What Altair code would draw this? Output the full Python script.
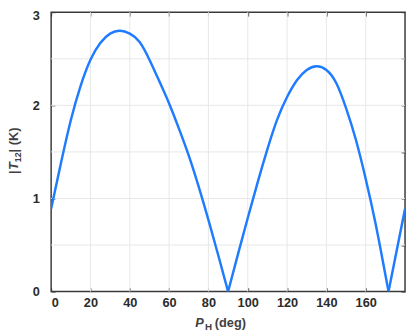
import altair as alt
import pandas as pd

# Curve: |T12| (K) against P_H (deg)
x_deg = [0, 5, 10, 15, 20, 25, 30, 35, 40, 45, 50, 55, 60, 65, 70, 75, 80, 85, 90,
         95, 100, 105, 110, 115, 120, 125, 130, 135, 140, 145, 150, 155, 160, 165, 170,
         171.6, 175, 180]
t_abs = [0.89, 1.38, 1.84, 2.21, 2.49, 2.67, 2.77, 2.80, 2.77, 2.68, 2.49, 2.26, 2.02,
         1.75, 1.46, 1.13, 0.77, 0.39, 0.00,
         0.40, 0.79, 1.17, 1.53, 1.85, 2.09, 2.27, 2.38, 2.42, 2.38, 2.24, 1.97, 1.63,
         1.21, 0.73, 0.18, 0.00, 0.36, 0.89]

x_ticks = [0, 20, 40, 60, 80, 100, 120, 140, 160]
y_ticks = [0, 0.5, 1, 1.5, 2, 2.5, 3]
x_grid = [20, 40, 60, 80, 100, 120, 140, 160]
y_grid = [0.5, 1, 1.5, 2, 2.5]

# split into lobes at the zeros so each arch is smooth but the kinks stay sharp
rows = []
lobe = 0
for i, (xv, tv) in enumerate(zip(x_deg, t_abs)):
    rows.append({"x": xv, "t": tv, "lobe": lobe})
    if tv == 0 and 0 < i < len(x_deg) - 1:
        lobe += 1
        rows.append({"x": xv, "t": tv, "lobe": lobe})
df = pd.DataFrame(rows)

FONT = "Liberation Sans"
FRAME = "#3a3a3a"
LABEL = "#2b2b2b"
TITLE = "#404040"

xs = alt.Scale(domain=[0, 180], nice=False, zero=False)
ys = alt.Scale(domain=[0, 3], nice=False, zero=False)

grid_x = alt.Chart(pd.DataFrame({"gx": x_grid})).mark_rule(
    color="#e6e6e6", strokeWidth=1).encode(x=alt.X("gx:Q", scale=xs, axis=None))
grid_y = alt.Chart(pd.DataFrame({"gy": y_grid})).mark_rule(
    color="#e6e6e6", strokeWidth=1).encode(y=alt.Y("gy:Q", scale=ys, axis=None))

main = alt.Chart(df).mark_line(
    color="#1f7bff", strokeWidth=2.5, interpolate="natural", clip=True
).encode(
    x=alt.X("x:Q", scale=xs, title=None,
            axis=alt.Axis(orient="bottom", values=x_ticks, format="d", offset=-4,
                          tickSize=4, tickColor=FRAME, tickWidth=1, domain=False,
                          grid=False, labelPadding=5, labelFont=FONT, labelFontSize=13,
                          labelFontWeight="bold", labelColor=LABEL)),
    y=alt.Y("t:Q", scale=ys, title=None,
            axis=alt.Axis(orient="left", values=y_ticks, format="d", offset=-4, tickSize=4,
                          tickColor=FRAME, tickWidth=1, domain=False, grid=False,
                          labelPadding=12, labelFont=FONT, labelFontSize=13,
                          labelFontWeight="bold", labelColor=LABEL,
                          labelExpr="datum.value % 1 == 0 ? datum.label : ''",
                          labelOffset={"condition": {"test": "datum.value == 3", "value": 3.5},
                                       "value": 0})),
    detail="lobe:N",
)

mirror = alt.Chart(df).mark_line(opacity=0).encode(
    x=alt.X("x:Q", scale=xs, title=None,
            axis=alt.Axis(orient="top", values=x_ticks, offset=-4, tickSize=4,
                          tickColor=FRAME, tickWidth=1, domain=False, grid=False,
                          labels=False)),
    y=alt.Y("t:Q", scale=ys, title=None,
            axis=alt.Axis(orient="right", values=y_ticks, offset=-4, tickSize=4,
                          tickColor=FRAME, tickWidth=1, domain=False, grid=False,
                          labels=False)),
    detail="lobe:N",
)

one = pd.DataFrame({"a": [0]})


def txt(s, x, y, size=13, italic=False, angle=0):
    kw = dict(align="left", baseline="alphabetic", font=FONT, fontSize=size,
              fontWeight="bold", color=TITLE)
    if italic:
        kw["fontStyle"] = "italic"
    if angle:
        kw["angle"] = angle
    return alt.Chart(one).mark_text(**kw).encode(
        x=alt.value(x), y=alt.value(y), text=alt.value(s))


# y title  |T12| (K), rotated
ytitle = [
    txt("|", -34, 165, angle=270),
    txt("T", -34, 161, italic=True, angle=270),
    txt("12", -31, 153, size=9, angle=270),
    txt("| (K)", -34, 143, angle=270),
]
# x title  P_H (deg)
xtitle = [
    txt("P", 147, 321, italic=True),
    txt("H", 157, 324, size=10),
    txt("(deg)", 167, 321),
]

chart = alt.layer(grid_x, grid_y, main, mirror, *ytitle, *xtitle).resolve_axis(
    x="independent", y="independent"
).properties(
    width=361, height=285,
    autosize=alt.AutoSizeParams(type="none"),
    padding={"left": 44, "top": 1, "right": 2, "bottom": 42},
).configure_view(stroke=FRAME, strokeWidth=1.5)

chart.save("out.html", embed_options={"renderer": "svg", "actions": False})
